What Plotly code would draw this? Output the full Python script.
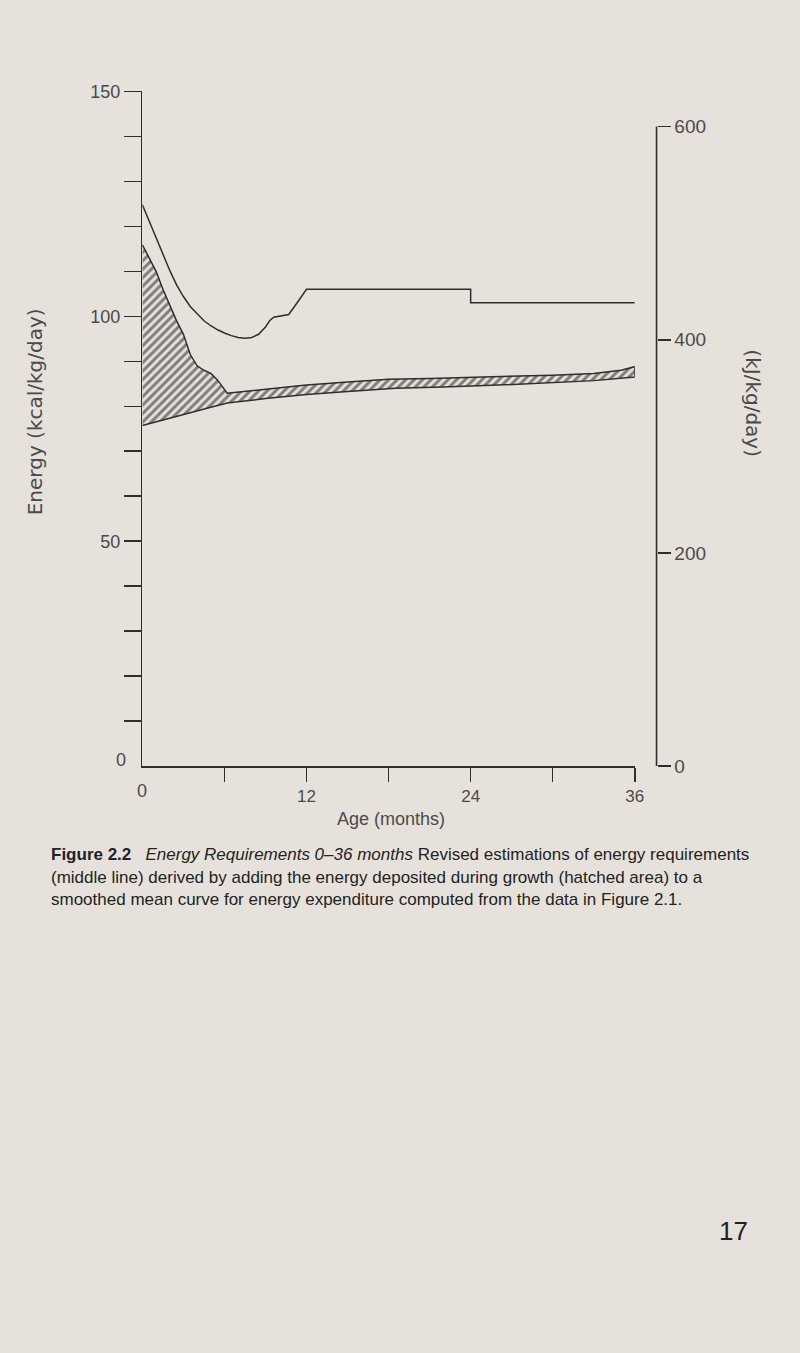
import plotly.graph_objects as go

# ---- data ----
req_months = [0, 1, 2, 2.5, 3, 3.5, 4, 4.5, 5, 5.5, 6, 6.5, 7, 7.5, 8, 8.5, 9, 9.3, 9.6, 10.7, 11.2, 12, 24, 24, 36]
req_kcal = [124.8, 117.3, 110.2, 107.0, 104.4, 102.2, 100.5, 99.0, 97.9, 97.0, 96.3, 95.7, 95.3, 95.1, 95.3, 96.0, 97.6, 99.0, 99.8, 100.4, 102.5, 106.0, 106.0, 103.0, 103.0]

growth_top_months = [0, 0.5, 1, 1.5, 2, 2.5, 3, 3.5, 4, 4.5, 5, 5.5, 6.2, 9, 12, 15, 18, 21, 24, 27, 30, 33, 35, 36]
growth_top_kcal = [115.9, 113.0, 110.0, 106.0, 102.5, 99.0, 96.0, 91.5, 89.0, 88.0, 87.3, 85.8, 82.9, 83.8, 84.7, 85.4, 86.0, 86.2, 86.4, 86.6, 86.9, 87.3, 88.0, 88.8]

expend_months = [0, 1, 2, 3, 4, 5, 6.2, 9, 12, 15, 18.5, 22, 26, 30, 33, 36]
expend_kcal = [75.7, 76.6, 77.4, 78.2, 79.0, 79.8, 80.7, 81.7, 82.6, 83.3, 84.0, 84.3, 84.7, 85.2, 85.7, 86.5]

x_tick_vals = [6, 12, 18, 24, 30, 36]
x_tick_text = ["", "12", "", "24", "", "36"]
y_tick_vals = [10, 20, 30, 40, 50, 60, 70, 80, 90, 100, 110, 120, 130, 140, 150]
y_tick_text = ["", "", "", "", "50", "", "", "", "", "100", "", "", "", "", "150"]
kj_tick_vals = [0, 200, 400, 600]

W, H = 800, 1353
BG = "#e6e2db"
INK = "#2e2e2e"
TXT = "#4a4a4a"
FONT = "Liberation Sans, Arial, sans-serif"

def px(x):
    return x / W

def py(y):
    return 1 - y / H

fig = go.Figure()

# hatched band: energy deposited during growth
band_x = growth_top_months + expend_months[::-1]
band_y = growth_top_kcal + expend_kcal[::-1]
fig.add_trace(go.Scatter(
    x=band_x, y=band_y, mode="lines", fill="toself",
    line=dict(color=INK, width=1.5),
    fillcolor="rgba(0,0,0,0)",
    fillpattern=dict(shape="/", fgcolor="#1a1a1a", bgcolor="rgba(0,0,0,0)", size=6, solidity=0.5),
    hoverinfo="skip", showlegend=False,
))

# requirement line (middle line)
fig.add_trace(go.Scatter(
    x=req_months, y=req_kcal, mode="lines",
    line=dict(color=INK, width=1.5),
    hoverinfo="skip", showlegend=False,
))

# invisible trace to activate the kJ axis
fig.add_trace(go.Scatter(x=[0], y=[0], yaxis="y2", mode="markers",
                         marker=dict(opacity=0), hoverinfo="skip", showlegend=False))

x_dom = [px(144), px(642)]
y_dom = [py(768), py(82.7)]

fig.update_layout(
    width=W, height=H, autosize=False,
    margin=dict(l=0, r=0, t=0, b=0),
    paper_bgcolor=BG, plot_bgcolor=BG,
    font=dict(family=FONT, color=TXT, size=17),
    xaxis=dict(
        domain=x_dom, range=[0, 36], showgrid=False, zeroline=False,
        showline=True, linecolor=INK, linewidth=1.6,
        tickmode="array", tickvals=x_tick_vals, ticktext=x_tick_text,
        ticks="outside", ticklen=14, tickwidth=1.5, tickcolor=INK,
        tickfont=dict(size=17, color=TXT, family=FONT),
        anchor="y",
    ),
    yaxis=dict(
        domain=y_dom, range=[0, 150], showgrid=False, zeroline=False,
        showline=True, linecolor=INK, linewidth=1.6,
        tickmode="array", tickvals=y_tick_vals, ticktext=y_tick_text,
        ticks="outside", ticklen=17, tickwidth=1.5, tickcolor=INK,
        tickfont=dict(size=18, color=TXT, family=FONT),
        anchor="x",
    ),
    yaxis2=dict(
        overlaying="y", anchor="free", position=px(664), side="right",
        range=[0, 633], showgrid=False, zeroline=False, showline=False,
        tickmode="array", tickvals=kj_tick_vals,
        ticks="outside", ticklen=13, tickwidth=1.5, tickcolor=INK,
        tickfont=dict(size=19, color=TXT, family=FONT),
    ),
)

# right axis line spanning 0..600 kJ
fig.add_shape(type="line", xref="paper", yref="y2",
              x0=px(664), x1=px(664), y0=kj_tick_vals[0], y1=kj_tick_vals[-1],
              line=dict(color=INK, width=1.6))

ann = []
# zero labels
ann.append(dict(x=0, y=0, xref="x", yref="y", text="0", showarrow=False,
                xanchor="center", yanchor="top", yshift=-13, font=dict(size=18, color=TXT)))
ann.append(dict(x=px(129), y=0, xref="paper", yref="y", text="0", showarrow=False,
                xanchor="right", yanchor="middle", yshift=6, font=dict(size=18, color=TXT)))
# axis titles
ann.append(dict(x=px(395), y=py(822), xref="paper", yref="paper", text="Age (months)",
                showarrow=False, xanchor="center", yanchor="middle", font=dict(size=18, color=TXT)))
ann.append(dict(x=px(35), y=py(408), xref="paper", yref="paper", text="Energy (kcal/kg/day)",
                showarrow=False, textangle=-90, xanchor="center", yanchor="middle",
                font=dict(size=20, color=TXT, family="DejaVu Sans, sans-serif")))
ann.append(dict(x=px(762), y=py(400), xref="paper", yref="paper", text="(kJ/kg/day)",
                showarrow=False, textangle=90, xanchor="center", yanchor="middle",
                font=dict(size=20, color=TXT, family="DejaVu Sans, sans-serif")))
# caption
cap_lines = [
    "<b>Figure 2.2</b>   <i>Energy Requirements 0–36 months</i> Revised estimations of energy requirements",
    "(middle line) derived by adding the energy deposited during growth (hatched area) to a",
    "smoothed mean curve for energy expenditure computed from the data in Figure 2.1.",
]
for line, yy in zip(cap_lines, [858, 881, 904]):
    ann.append(dict(x=px(50), y=py(yy), xref="paper", yref="paper", text=line,
                    showarrow=False, xanchor="left", yanchor="middle",
                    font=dict(size=17, color="#222222", family=FONT)))
# page number
ann.append(dict(x=px(742), y=py(1240), xref="paper", yref="paper", text="17",
                showarrow=False, xanchor="center", yanchor="middle",
                font=dict(size=26, color="#222222", family=FONT)))

fig.update_layout(annotations=ann)
fig.write_html(
    "out.html",
    config={"displayModeBar": False, "staticPlot": True},
    post_script="document.body.style.margin='0';document.body.style.padding='0';"
                "document.body.style.overflow='hidden';document.body.style.background='" + BG + "';",
)
